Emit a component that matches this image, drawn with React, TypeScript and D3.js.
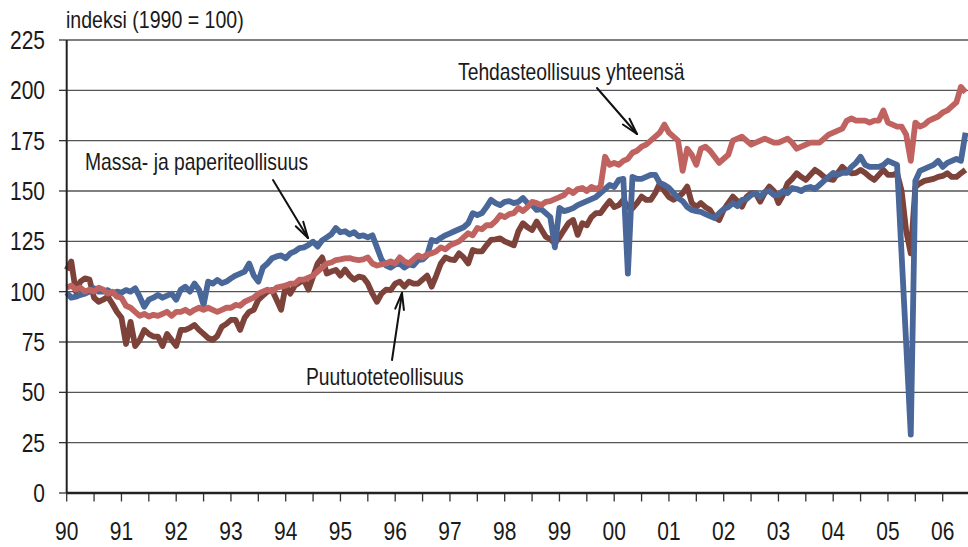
import React from "react";
import * as d3 from "d3";

// Monthly index values, Jan 1990 – Jun 2006 (1990 = 100)
const startYear = 1990;
const yTicks = [0, 25, 50, 75, 100, 125, 150, 175, 200, 225];
const xYears = ["90","91","92","93","94","95","96","97","98","99","00","01","02","03","04","05","06"];

const massaPaperi = [
  99.5, 97, 97.5, 98.4, 99, 100, 101.7, 100, 100, 100.8, 99.2, 100,
  99.5, 100.8, 100, 101.7, 97.5, 92.5, 96, 97, 98.4, 97, 98, 99,
  96, 101, 102.5, 100, 104, 101, 93.4, 105, 104, 105.8, 104.2, 105,
  106.6, 108, 109, 110, 114, 108, 105, 112, 114, 116.6, 117.5, 118,
  116.6, 119, 120, 121.6, 122, 123.2, 124.8, 122.4, 125.5, 127, 128.5, 131.6,
  129.5, 130, 128.5, 129.5, 127.5, 128, 127, 128, 122, 116, 113, 112,
  113.5, 114, 112, 113.5, 113, 115.7, 116, 118, 125.7, 125, 126.7, 128,
  129, 130, 131, 132, 134, 139, 138, 139, 142, 145.6, 144, 143,
  144.6, 145, 144, 144.6, 146.5, 144, 143, 140.6, 141, 139, 137, 122,
  141.6, 140, 140.6, 141.5, 143, 144, 145, 146, 147, 149, 151, 153,
  152, 155.5, 156, 109, 157, 156, 156, 157, 158, 158, 154, 153,
  151.5, 149, 146.5, 145, 142, 140.6, 140, 139.6, 138.5, 137.5, 136.6, 139,
  141, 142, 144, 142.5, 145.6, 146, 148, 149, 147, 149.5, 150, 148,
  148, 150, 149, 151.5, 151, 150, 151.5, 152, 151, 153, 155, 157,
  159, 158, 159, 159, 162, 164, 167, 163, 162, 162, 162, 163,
  165, 164, 163, 118, 74, 29, 155, 160, 161, 162, 163, 165,
  162, 164, 165, 166, 165, 179,
];

const tehdasYhteensa = [
  102, 103, 101, 102, 100, 101, 100, 102, 101, 99, 100, 97.5,
  97, 93, 92, 90, 88, 89, 87.6, 88.5, 88, 89, 90, 88,
  90, 90, 91, 89.5, 91, 92, 91, 92, 91, 90, 91, 92,
  92, 93.4, 93, 95, 96, 97, 99, 100, 101, 100, 102, 102.5,
  103, 104, 104, 106, 106, 107, 108, 110, 112, 114, 114.5, 115.7,
  116, 116.5, 116.7, 116, 115.7, 116, 117, 114, 113, 113.5, 114, 115,
  114, 117, 115, 114, 116, 118, 117, 118.5, 119, 120, 122, 121,
  123, 124, 125, 127, 129, 128, 131.6, 131, 133, 133, 135, 138,
  137, 138.5, 139, 141.6, 140, 142, 144.6, 144, 143, 144.6, 145, 146,
  147, 148, 150.5, 149, 151, 151.5, 150, 152, 151, 152, 167, 163,
  164, 163, 165, 166, 169, 170, 172, 173, 175, 177, 179, 183,
  179, 177, 175, 160, 171, 168, 163, 171, 172, 170, 167, 164,
  166, 168, 175, 176, 177, 175, 173, 174, 175, 176, 175, 174,
  174, 175, 176, 174, 171, 172, 173, 174, 174, 174, 176, 178,
  179, 180, 181, 185, 186, 185, 185, 185, 184, 185, 185, 190,
  184, 183, 182, 182, 178, 165, 184, 182, 183, 185, 186, 187,
  189, 190, 192, 194, 201.7, 199,
];

const puutuote = [
  110.8, 115, 100, 105, 106.6, 106, 97, 95, 96, 97.5, 94, 90,
  87, 74, 85, 73, 76, 81, 79, 77.7, 77.7, 73, 79, 76,
  73, 81, 81, 82, 83.5, 81, 79, 77, 76, 78, 82.6, 84,
  86, 86, 81, 87, 90, 91, 96, 98, 100, 100.8, 96, 91,
  103, 99, 103, 104.5, 105.8, 101, 107.5, 114, 117, 109, 110, 110.8,
  108, 111, 108, 106, 107.5, 107, 104, 99, 95, 99, 101, 100.8,
  104, 105, 102.5, 105, 104, 104, 106, 108, 102.5, 108, 114, 117,
  116, 115.7, 119, 117, 114, 120.7, 120, 120, 123, 125.7, 126, 126.5,
  125, 124, 123, 130, 134, 132, 130.6, 134.8, 131, 127.3, 126, 124,
  127, 130.6, 134, 135.6, 128.2, 134, 133, 137, 139, 139, 142.2, 145,
  142, 143, 145.6, 142, 141.4, 144, 147.2, 145.6, 145.6, 149, 153.8, 150,
  147, 145.6, 147, 148.9, 152.2, 144, 142.2, 144, 142, 140.6, 137, 135.6,
  140.6, 144, 147.2, 145, 142.2, 147, 148.9, 148.9, 144.7, 149, 152.2, 150,
  144, 148, 153.8, 156, 158.8, 157, 155.5, 158, 160.5, 159, 157, 156,
  155.5, 159, 162, 160, 158.8, 159, 160.5, 159, 157, 155.5, 158, 160.5,
  158, 158, 158.8, 150, 130, 119, 152, 153.8, 155, 155.5, 156, 157,
  157.5, 158.8, 157, 157, 158.8, 160.5,
];

const W = 968;
const H = 547;
const FONT = "'Liberation Sans', Arial, sans-serif";
const SX = 0.84;

const x = d3.scaleLinear().domain([1990, 2006]).range([66.7, 942.7]);
const y = d3.scaleLinear().domain([0, 225]).range([493, 40]);

const line = d3
  .line<number>()
  .x((_, i) => x(startYear + i / 12))
  .y((d) => y(d));

function T({ x: tx, y: ty, size, anchor = "start", children }: any) {
  return (
    <text
      transform={`translate(${tx},${ty}) scale(${SX},1)`}
      fontFamily={FONT}
      fontSize={size}
      textAnchor={anchor}
      fill="#1a1a1a"
    >
      {children}
    </text>
  );
}

function Arrow({ x1, y1, x2, y2 }: any) {
  const ang = Math.atan2(y2 - y1, x2 - x1);
  const len = 17;
  const spread = 0.26;
  const a1 = ang + Math.PI - spread;
  const a2 = ang + Math.PI + spread;
  return (
    <g stroke="#111" strokeWidth={2} fill="none" strokeLinecap="round">
      <line x1={x1} y1={y1} x2={x2} y2={y2} />
      <line x1={x2} y1={y2} x2={x2 + len * Math.cos(a1)} y2={y2 + len * Math.sin(a1)} />
      <line x1={x2} y1={y2} x2={x2 + len * Math.cos(a2)} y2={y2 + len * Math.sin(a2)} />
    </g>
  );
}

export default function App() {
  const halfYearTicks = d3.range(0, 33).map((k) => 1990 + k / 2);
  return (
    <svg width={W} height={H} style={{ position: "absolute", left: 0, top: 0, background: "#fff" }}>
      <rect width={W} height={H} fill="#fff" />
      {/* grid */}
      {yTicks.map((t) => (
        <g key={t}>
          {t > 0 && (
            <line x1={x(1990)} x2={W} y1={y(t)} y2={y(t)} stroke="#555" strokeWidth={1.3} />
          )}
          <line x1={59} x2={x(1990)} y1={y(t)} y2={y(t)} stroke="#333" strokeWidth={1.3} />
          <T x={45} y={y(t) + 9} size={25} anchor="end">
            {t}
          </T>
        </g>
      ))}
      {/* x ticks */}
      {halfYearTicks.map((t) => (
        <line key={t} x1={x(t)} x2={x(t)} y1={493} y2={501.5} stroke="#333" strokeWidth={1.3} />
      ))}
      {xYears.map((lab, i) => (
        <T key={lab} x={x(1990 + i)} y={540} size={25} anchor="middle">
          {lab}
        </T>
      ))}
      {/* series */}
      <path d={line(puutuote) || ""} fill="none" stroke="#7d433b" strokeWidth={5.8} strokeLinejoin="round" />
      <path d={line(massaPaperi) || ""} fill="none" stroke="#4a6799" strokeWidth={5.8} strokeLinejoin="round" />
      <path d={line(tehdasYhteensa) || ""} fill="none" stroke="#c0625f" strokeWidth={5.8} strokeLinejoin="round" />
      {/* axes */}
      <line x1={x(1990)} x2={x(1990)} y1={y(225)} y2={y(0)} stroke="#222" strokeWidth={2} />
      <line x1={x(1990)} x2={W} y1={y(0)} y2={y(0)} stroke="#222" strokeWidth={2.5} />
      {/* titles / labels */}
      <T x={66} y={28} size={23.3}>indeksi (1990 = 100)</T>
      <T x={85} y={170} size={23}>Massa- ja paperiteollisuus</T>
      <T x={458} y={80} size={23}>Tehdasteollisuus yhteensä</T>
      <T x={306} y={385} size={23}>Puutuoteteollisuus</T>
      <Arrow x1={273} y1={180} x2={308} y2={238} />
      <Arrow x1={597} y1={88} x2={637} y2={134} />
      <Arrow x1={392} y1={360} x2={402} y2={293} />
    </svg>
  );
}
